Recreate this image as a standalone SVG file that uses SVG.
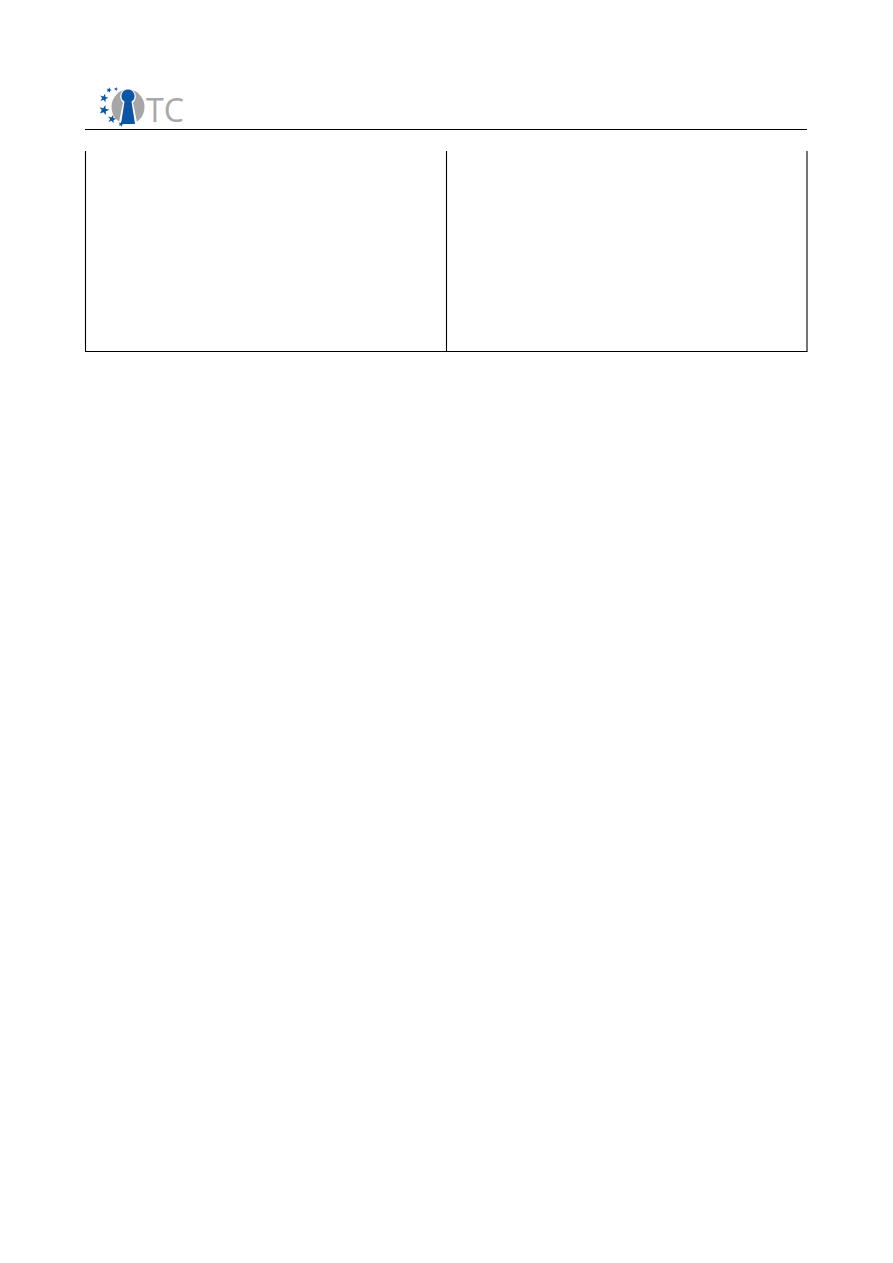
<svg xmlns="http://www.w3.org/2000/svg" width="893" height="1263" viewBox="0 0 893 1263">
<style>
.rule{stroke:#000;stroke-width:1.1;fill:none}
.star{fill:#0a55a5}
.tc{font-family:"Open Sans","Liberation Sans",Arial,sans-serif;font-size:33px;fill:#a8a8a8}
</style>
<defs><polygon id="s" points="0,-4 1,-1.2 4,-1.2 1.6,0.5 2.4,3.4 0,1.7 -2.4,3.4 -1.6,0.5 -4,-1.2 -1,-1.2"/></defs>
<rect width="893" height="1263" fill="#fff"/>
<g id="logo">
<ellipse cx="128" cy="107" rx="16.500" ry="17.500" fill="#a6a6a6"/>
<path d="M128 88.500a8 8 0 0 1 5 14l4.500 22.500h-19l4.500-22.500a8 8 0 0 1 5-14z" fill="#fff"/>
<path d="M128 89.500a6.500 6.500 0 0 1 3.500 12l3.500 22.500h-14l3.500-22.500a6.500 6.500 0 0 1 3.500-12z" fill="#0a55a5"/>
<use href="#s" class="star" transform="translate(104 98) rotate(15) scale(1.100)"/>
<use href="#s" class="star" transform="translate(109 90) rotate(15) scale(.7)"/>
<use href="#s" class="star" transform="translate(116 89) rotate(15) scale(.5)"/>
<use href="#s" class="star" transform="translate(104 110) rotate(15) scale(1.300)"/>
<use href="#s" class="star" transform="translate(112 119) rotate(15) scale(1.100)"/>
<use href="#s" class="star" transform="translate(121 124) rotate(15) scale(.7)"/>
<text class="tc" x="146" y="122" textLength="38" lengthAdjust="spacingAndGlyphs">TC</text>
</g>
<g id="table">
<line class="rule" x1="85" y1="129.500" x2="807" y2="129.500"/>
<line class="rule" x1="85.500" y1="151" x2="85.500" y2="351.500"/>
<line class="rule" x1="446.500" y1="151" x2="446.500" y2="351.500"/>
<line class="rule" x1="807" y1="151" x2="807" y2="351.500"/>
<line class="rule" x1="85" y1="351.500" x2="807.500" y2="351.500"/>
</g>
</svg>
